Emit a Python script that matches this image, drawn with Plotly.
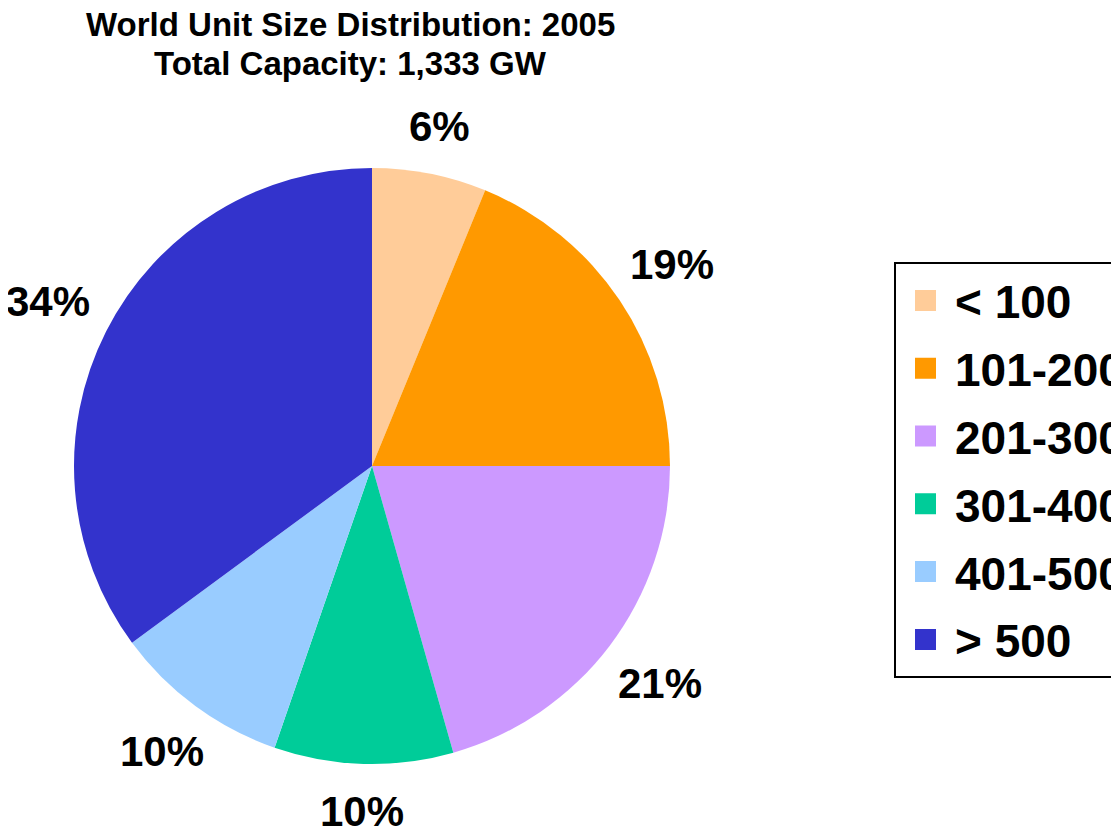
import math
import plotly.graph_objects as go

categories = ["< 100", "101-200", "201-300", "301-400", "401-500", "> 500"]
shares = [6.2, 18.8, 20.6, 9.7, 9.6, 35.1]
label_text = ["6%", "19%", "21%", "10%", "10%", "34%"]
colors = ["#FFCC99", "#FF9900", "#CC99FF", "#00CC99", "#99CCFF", "#3333CC"]
title_lines = ["World Unit Size Distribution: 2005", "Total Capacity: 1,333 GW"]

FONT = "Arial, Liberation Sans, sans-serif"
W, H = 1119, 831
OFF = 8  # page body margin
cx, cy, R = 372 - OFF, 466 - OFF, 298  # pie centre / radius in px
dom_x = [(cx - R) / W, (cx + R) / W]
dom_y = [1 - (cy + R) / H, 1 - (cy - R) / H]

fig = go.Figure()
fig.add_trace(go.Pie(
    labels=categories, values=shares, sort=False, direction="clockwise",
    rotation=0, marker=dict(colors=colors, line=dict(width=0)),
    textinfo="none", hoverinfo="label+percent", showlegend=False,
    domain=dict(x=dom_x, y=dom_y),
))

# legend entries (one per category)
for c, col in zip(categories, colors):
    fig.add_trace(go.Scatter(x=[None], y=[None], mode="markers", name=c,
                             legendgroup=c,
                             marker=dict(symbol="square", size=16, color=col,
                                         line=dict(width=10, color=col))))

# outside labels placed along each slice's mid-angle
LFS = 42
def em_width(s):
    return sum(0.889 if ch == "%" else 0.556 for ch in s)

total = sum(shares)
cum = 0.0
for v, t in zip(shares, label_text):
    mid = (cum + v / 2) / total * 2 * math.pi
    cum += v
    s, c = math.sin(mid), math.cos(mid)
    hw = em_width(t) * LFS / 2
    hh = 21
    r = R * 1.09 + math.hypot(hw * s, hh * c)
    px = cx + r * s
    py = cy - r * c
    fig.add_annotation(x=px / W, y=1 - py / H, xref="paper", yref="paper",
                       text=t, showarrow=False, xanchor="center", yanchor="middle",
                       font=dict(family=FONT, size=LFS, color="black", weight="bold"))

for line, yc in zip(title_lines, [24 - OFF, 64 - OFF]):
    fig.add_annotation(x=(350 - OFF) / W, y=1 - yc / H, xref="paper", yref="paper",
                       text=line, showarrow=False, xanchor="center", yanchor="middle",
                       font=dict(family=FONT, size=33, color="black", weight="bold"))

fig.update_layout(
    width=W, height=H,
    margin=dict(l=0, r=0, t=0, b=0, autoexpand=False),
    paper_bgcolor="white", plot_bgcolor="white",
    xaxis=dict(visible=False), yaxis=dict(visible=False),
    legend=dict(x=(894 - OFF) / W, xanchor="left", y=1 - (262 - OFF) / H, yanchor="top",
                bordercolor="black", borderwidth=2, bgcolor="white",
                font=dict(family=FONT, size=46, color="black", weight="bold"),
                itemwidth=49, tracegroupgap=5, itemsizing="trace"),
    showlegend=True,
)

fig.write_html("out.html")
